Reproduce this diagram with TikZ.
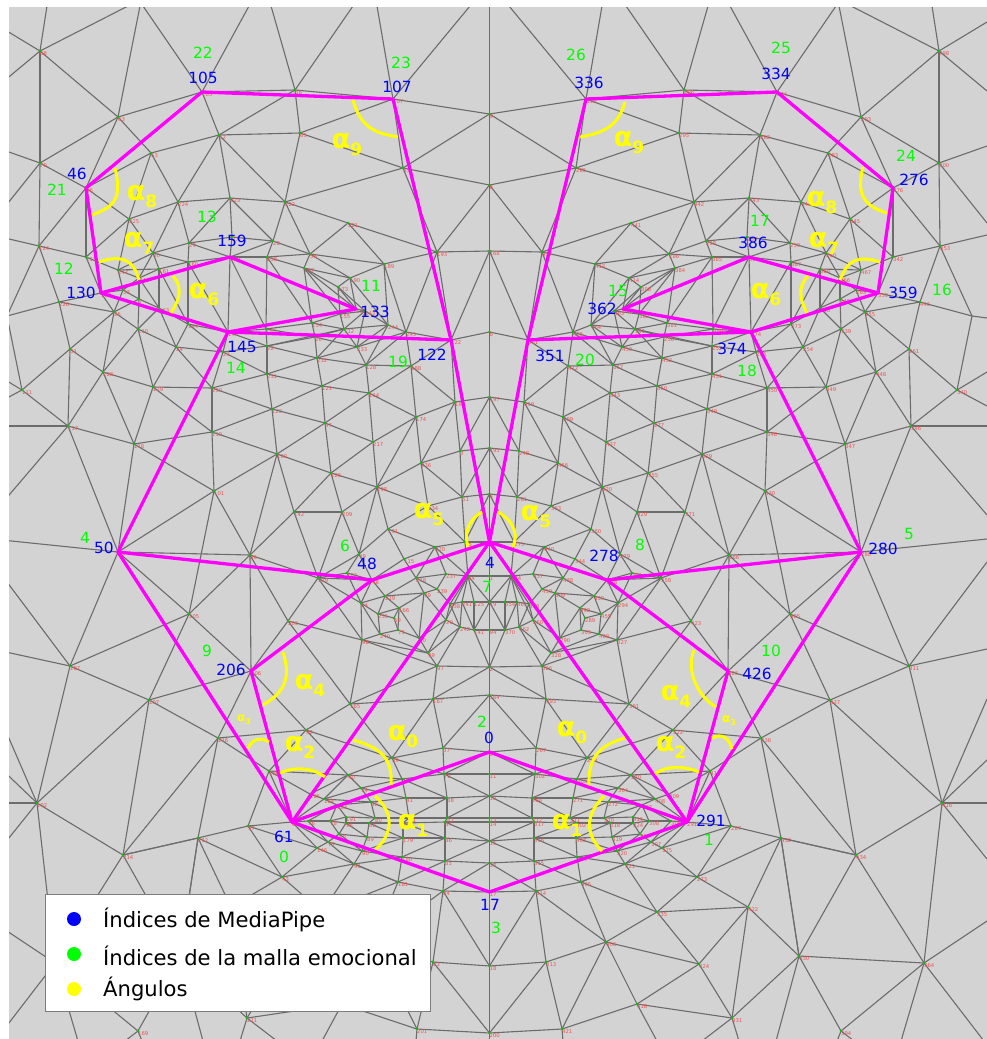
\documentclass[tikz,border=0pt]{standalone}
\usepackage{fontspec}
\setmainfont{DejaVu Sans}
\definecolor{meshbg}{RGB}{211,211,211}
\definecolor{meshline}{RGB}{108,108,108}
\definecolor{tinyred}{RGB}{235,85,85}
\definecolor{dotgreen}{RGB}{0,200,0}
\definecolor{lgborder}{RGB}{125,125,125}
\definecolor{purem}{RGB}{255,0,255}
\definecolor{purey}{RGB}{255,255,0}
\definecolor{pureb}{RGB}{0,0,255}
\definecolor{pureg}{RGB}{0,255,0}
\newcommand{\angl}[2][27]{{\fontsize{#1}{#1}\selectfont\bfseries α\raisebox{-0.26em}{\fontsize{\numexpr #1*64/100\relax}{10}\selectfont #2}}}
\newcommand{\smallidx}{\fontsize{5.3}{6}\selectfont}
\tikzset{
 meshedge/.style={draw=meshline,line width=1.1pt},
 featedge/.style={draw=purem,line width=3.3pt,line cap=round,line join=round},
 anglearc/.style={draw=purey,line width=3pt},
 anglelabel/.style={text=purey,inner sep=0pt},
 mpidx/.style={text=pureb,font=\fontsize{15.4}{16}\selectfont,inner sep=0pt},
 emidx/.style={text=pureg,font=\fontsize{15.4}{16}\selectfont,inner sep=0pt},
 vtxidx/.style={text=tinyred,font=\smallidx,anchor=west,inner sep=0pt},
 lgtext/.style={text=black,anchor=west,inner sep=0pt,font=\fontsize{21.1}{23}\selectfont},
}
\begin{document}
\begin{tikzpicture}[x=1pt,y=-1pt]
\useasboundingbox (0,0) rectangle (987,1039);
\fill[white] (0,0) rectangle (987,1039);
\fill[meshbg] (9,7) rectangle (987,1039);
% paired vertices (left index / right index / x / y); the right one is the mirror image
\foreach \l/\r/\x/\y in {68/298/40/51,63/293/118/117,105/334/202/92,66/296/295/90,107/336/393/99,52/282/219/135,65/295/300/133,53/283/151/153,70/300/40/163,46/276/86/188,55/285/403/168,224/444/178/202,223/443/230/198,222/442/285/202,225/445/129/219,221/441/348/223,124/353/39/246,27/257/232/237,29/259/189/243,28/258/273/241,56/286/310/254,30/260/153/253,113/342/86/257,159/386/230/257,158/385/267/257,193/417/437/252,160/387/188/262,189/413/384/264,157/384/304/268,247/467/118/270,161/388/159/269,246/466/139/278,190/414/350/278,173/398/338/287,33/263/123/290,130/359/101/293,226/446/59/302,7/249/139/299,163/390/159/308,133/362/356/309,155/382/340/314,25/255/114/312,243/463/365/311,154/381/312/323,144/373/188/324,244/464/388/325,245/465/406/332,112/341/344/329,110/339/138/329,153/380/266/329,145/374/228/332,122/351/451/340,31/261/70/349,24/254/176/347,23/253/223/352,22/252/267/346,26/256/315/337,233/453/357/347,232/452/317/358,128/357/366/365,188/412/411/366,228/448/103/372,231/451/267/374,111/340/22/390,229/449/153/387,230/450/212/388,121/350/322/386,114/343/369/393,196/419/455/402,120/349/272/409,174/399/416/417,47/277/325/423,117/346/68/426,119/348/212/432,217/437/373/442,118/347/134/444,3/248/460/451,100/329/277/454,236/456/421/463,126/355/331/473,198/420/377/487,101/330/214/491,51/281/462/497,134/363/428/506,142/371/294/512,209/429/342/512,131/360/388/529,220/440/435/547,45/275/465/542,50/280/118/552,49/279/359/554,115/344/404/559,36/266/250/555,48/278/372/580,237/457/446/574,44/274/468/576,218/438/416/578,129/358/318/578,102/331/347/573,219/439/385/596,79/309/424/593,239/459/437/589,64/294/361/603,238/458/450/604,241/461/462/602,125/354/474/602,166/392/399/608,235/455/378/614,59/289/394/618,20/250/446/620,242/462/460/627,141/370/474/630,75/305/398/630,240/460/380/634,98/327/362/640,60/290/419/638,99/328/428/653,97/326/437/666,205/425/189/614,203/423/288/621,206/426/251/671,187/411/70/666,207/427/149/700,165/391/350/704,167/393/433/699,92/322/306/730,216/436/218/738,37/267/443/748,39/269/392/758,186/410/269/771,40/270/348/775,72/302/444/774,73/303/402/779,74/304/361/788,185/409/310/794,41/271/406/798,38/268/447/798,184/408/324/799,42/272/371/802,183/407/337/805,212/432/198/838,57/287/248/826,61/291/292/822,76/306/308/821,78/308/330/821,191/415/346/817,95/324/346/823,80/310/375/818,88/318/369/823,81/311/409/818,178/402/403/823,82/312/447/818,87/317/445/822,96/325/339/834,89/319/367/837,86/316/445/838,179/403/403/838,77/307/328/842,146/375/317/848,90/320/362/851,180/404/402/857,85/315/445/861,91/321/354/864,43/273/282/877,181/405/398/882,84/314/443/891,192/416/37/803,214/434/123/855,135/364/55/963,169/394/138/1031,211/431/247/1018,201/421/417/1029,83/313/433/962,182/406/373/942,106/335/322/912,204/424/280/964,202/422/231/907,210/430/180/956,194/418/342/1004,35/265/7/316}{
  \pgfmathsetmacro{\mx}{979-\x}
  \coordinate (L\l) at (\x,\y);
  \coordinate (R\l) at (\mx,\y);
}
% vertices on the axis of symmetry
\foreach \l/\y in {9/114,8/185,168/251,6/332,197/397,195/448,5/494,4/542,1/576,19/602,94/630,2/667,164/695,0/752,11/774,12/796,13/818,14/822,15/841,16/863,17/892,18/966,200/1033}{
  \coordinate (L\l) at (489.5,\y);
  \coordinate (R\l) at (489.5,\y);
}
% free ends of the mesh lines, beyond the frame
\foreach \l/\x/\y in {a1/47/6,a2/128/6,a3/140/6,a4/143/6,a5/249/6,a6/271/6,a7/353/6,a8/377/6,a9/470/6,a10/489.5/6,b1/-8/22,b2/-8/91,b3/-8/146,b4/-8/223,b5/-8/235,b6/-8/372,b7/-8/406,b8/-8/426,b9/-8/515,b10/-8/539,b11/-8/562,b12/-8/649,b13/-8/699,b14/-8/803,b15/-8/859,b16/-8/921,b17/-8/1045,b18/-8/318,b19/-8/760,c1/203/1041,c2/142/1041,c3/125/1041,c4/78/1041,c5/240/1041,c6/277/1041,c7/322/1041,c8/416/1041,c9/489.5/1041}{
  \pgfmathsetmacro{\mx}{979-\x}
  \coordinate (L\l) at (\x,\y);
  \coordinate (R\l) at (\mx,\y);
}
\begin{scope}
\clip (9,7) rectangle (987,1039);
\foreach \a/\b in {68/a1,68/a2,68/b1,68/b2,68/63,68/70,63/a3,105/a4,105/a5,105/63,105/52,105/66,105/46,66/a6,66/a7,66/107,66/52,66/65,107/a8,107/a9,107/9,107/65,107/55,9/a10,9/55,9/8,55/8,55/65,55/222,55/193,8/168,8/193,52/65,52/53,52/224,52/223,52/222,65/222,63/53,63/70,63/46,53/46,53/224,53/225,70/b3,70/b4,70/46,70/124,46/124,46/113,46/225,225/224,225/30,225/113,225/247,224/223,224/30,224/29,223/222,223/29,223/27,223/28,222/221,222/28,222/56,221/193,221/56,221/189,193/189,193/168,193/245,193/122,189/56,189/190,189/244,189/245,29/27,27/28,29/30,29/159,29/160,28/56,28/159,28/158,27/159,113/247,113/124,113/130,30/247,30/160,30/161,30/246,247/33,247/246,247/161,246/161,246/33,246/7,246/163,33/7,33/130,33/25,130/25,130/226,226/25,226/124,226/31,226/35,124/b5,124/35,25/31,25/110,25/7,25/228,7/163,7/110,161/160,160/159,159/158,158/157,157/173,173/133,133/155,155/154,154/153,153/145,145/144,144/163,161/163,160/144,159/145,158/153,157/154,159/153,158/154,157/155,157/133,173/155,160/145,161/144,158/56,157/56,157/190,190/56,190/173,190/244,190/133,173/243,133/243,155/243,155/112,243/112,243/244,243/233,244/112,244/128,244/245,244/233,245/122,245/233,245/188,245/128,154/112,154/26,153/26,153/22,145/23,145/22,144/23,144/24,163/24,163/110,110/24,110/228,110/229,24/23,23/22,22/26,22/112,26/112,26/233,112/233,232/112,31/228,31/111,31/117,35/111,35/b18,228/229,228/117,228/118,229/118,229/230,229/119,229/24,24/230,230/23,230/231,230/119,230/120,23/231,22/231,22/232,231/232,231/121,231/120,232/26,232/233,232/128,232/121,233/128,128/188,128/114,128/121,188/122,188/114,188/196,188/174,121/114,121/120,121/47,114/47,114/174,114/217,196/197,196/122,196/174,196/3,196/236,197/3,197/195,197/6,6/122,6/168,168/122,174/217,174/236,47/120,47/217,47/100,47/126,120/100,120/119,119/118,119/100,119/101,118/117,118/101,118/50,117/b8,117/b9,117/50,117/111,111/b6,111/b7,100/101,100/126,100/142,100/36,126/198,126/142,126/209,126/217,217/198,198/174,198/236,198/134,198/209,198/131,198/49,236/3,236/134,236/51,3/195,3/51,195/51,195/5,51/5,51/134,51/45,5/4,5/45,134/131,134/45,131/220,45/220,45/44,45/4,220/115,220/237,220/218,220/44,131/49,131/115,49/209,49/48,49/129,49/102,209/142,209/129,142/36,142/129,101/36,101/205,101/50,36/50,36/205,36/203,36/206,36/129,50/b10,50/187,50/205,205/187,205/207,205/206,203/206,203/129,203/98,203/165,187/b11,187/b12,187/192,187/207,129/48,129/102,129/64,129/98,102/48,102/64,48/115,48/219,48/64,115/218,218/219,218/237,218/79,218/239,237/44,237/239,44/1,44/238,44/241,44/125,44/19,44/20,1/19,1/4,239/79,239/238,79/219,79/166,79/60,79/20,219/64,219/166,219/235,64/235,64/98,64/240,235/59,235/240,235/166,166/59,166/75,166/60,59/75,75/240,75/60,240/98,240/99,98/97,98/99,60/99,60/20,20/99,20/238,20/242,242/99,242/97,242/141,141/94,141/2,94/2,97/2,99/97,238/241,241/125,125/19,241/242,241/141,125/141,19/94,19/141,238/242,97/167,2/167,2/164,164/167,164/37,164/0,167/165,167/37,167/39,98/165,97/165,165/92,165/39,206/92,206/216,206/207,207/216,207/214,207/192,216/92,216/186,216/212,216/214,92/186,92/39,92/40,37/39,37/0,37/72,39/72,39/73,39/40,0/72,0/11,11/72,11/12,12/72,12/38,38/72,38/73,38/41,72/73,73/40,73/74,73/41,74/40,74/41,74/42,74/184,41/42,41/81,38/81,38/82,12/82,12/13,40/185,40/184,40/186,185/186,185/61,185/184,186/57,186/61,57/212,57/43,57/61,57/146,212/43,212/214,212/202,212/210,43/146,43/91,43/106,43/202,61/146,61/76,61/77,61/184,61/183,146/77,146/91,76/78,76/77,76/183,78/191,78/95,78/183,183/191,183/80,183/42,183/184,184/42,42/80,42/81,191/80,80/81,81/82,82/13,95/88,88/178,178/87,87/14,13/14,191/95,80/88,81/178,82/87,95/96,95/89,88/89,88/179,178/179,178/86,87/86,87/15,14/15,15/86,15/16,86/85,86/179,179/89,179/180,179/90,89/96,89/90,96/77,96/90,96/78,77/90,77/91,90/91,90/180,91/180,91/181,180/181,180/85,180/86,85/16,85/15,85/84,85/181,84/181,84/17,16/17,16/84,84/83,84/18,17/18,181/106,181/182,181/91,91/106,84/182,83/182,83/18,83/201,83/200,18/200,200/c9,201/200,182/106,182/204,182/194,182/201,106/204,106/202,202/204,202/211,202/210,204/211,204/194,194/211,194/201,194/c7,201/c8,211/c5,211/c6,210/211,210/212,210/214,210/135,210/169,210/c1,212/214,214/192,214/135,192/b13,192/b19,192/b14,192/b15,192/135,135/169,135/b16,135/b17,135/c4,169/c2,169/c3}{
  \path[meshedge] (L\a) -- (L\b) (R\a) -- (R\b);
}
\end{scope}
% vertex dots and their tiny indices
\foreach \l/\r in {68/298,63/293,105/334,66/296,107/336,52/282,65/295,53/283,70/300,46/276,55/285,224/444,223/443,222/442,225/445,221/441,124/353,27/257,29/259,28/258,56/286,30/260,113/342,159/386,158/385,193/417,160/387,189/413,157/384,247/467,161/388,246/466,190/414,173/398,33/263,130/359,226/446,7/249,163/390,133/362,155/382,25/255,243/463,154/381,144/373,244/464,245/465,112/341,110/339,153/380,145/374,122/351,31/261,24/254,23/253,22/252,26/256,233/453,232/452,128/357,188/412,228/448,231/451,111/340,229/449,230/450,121/350,114/343,196/419,120/349,174/399,47/277,117/346,119/348,217/437,118/347,3/248,100/329,236/456,126/355,198/420,101/330,51/281,134/363,142/371,209/429,131/360,220/440,45/275,50/280,49/279,115/344,36/266,48/278,237/457,44/274,218/438,129/358,102/331,219/439,79/309,239/459,64/294,238/458,241/461,125/354,166/392,235/455,59/289,20/250,242/462,141/370,75/305,240/460,98/327,60/290,99/328,97/326,205/425,203/423,206/426,187/411,207/427,165/391,167/393,92/322,216/436,37/267,39/269,186/410,40/270,72/302,73/303,74/304,185/409,41/271,38/268,184/408,42/272,183/407,212/432,57/287,61/291,76/306,78/308,191/415,95/324,80/310,88/318,81/311,178/402,82/312,87/317,96/325,89/319,86/316,179/403,77/307,146/375,90/320,180/404,85/315,91/321,43/273,181/405,84/314,192/416,214/434,135/364,169/394,211/431,201/421,83/313,182/406,106/335,204/424,202/422,210/430,194/418}{
  \fill[dotgreen] (L\l) circle (1.3);
  \fill[dotgreen] (R\l) circle (1.3);
  \node[vtxidx] (tl\l) at ([yshift=-2.5pt]L\l) {\l};
  \node[vtxidx] (tr\r) at ([yshift=-2.5pt]R\l) {\r};
}
\foreach \l in {9,8,168,6,197,195,5,4,1,19,94,2,164,0,11,12,13,14,15,16,17,18,200}{
  \fill[dotgreen] (L\l) circle (1.3);
  \node[vtxidx] (tc\l) at ([yshift=-2.5pt]L\l) {\l};
}
% emotional mesh
\foreach \a/\b in {105/46,46/130,105/107,107/122,130/159,159/133,133/145,145/130,145/122,145/50,50/48,48/4,4/122,50/61,206/61,206/48,61/0,61/17,61/4}{
  \path[featedge] (L\a) -- (L\b) (R\a) -- (R\b);
}
% angle arcs
\draw[anglearc] (353,100) .. controls (360,125) and (372,133) .. (398,137);
\draw[anglearc] (625,102) .. controls (618,127) and (603,133) .. (580,137);
\draw[anglearc] (115,168) .. controls (123,200) and (113,207) .. (92,215);
\draw[anglearc] (863,167) .. controls (855,197) and (867,207) .. (887,213);
\draw[anglearc] (99,262) .. controls (120,255) and (133,258) .. (139,280);
\draw[anglearc] (880,262) .. controls (857,255) and (848,260) .. (840,280);
\draw[anglearc] (173,276) .. controls (185,290) and (177,303) .. (171,313);
\draw[anglearc] (808,276) .. controls (797,287) and (800,300) .. (807,313);
\draw[anglearc] (482,512) .. controls (465,522) and (465,537) .. (468,547);
\draw[anglearc] (498,512) .. controls (517,523) and (517,537) .. (513,547);
\draw[anglearc] (283,652) .. controls (292,680) and (283,693) .. (263,705);
\draw[anglearc] (694,650) .. controls (685,673) and (700,698) .. (716,707);
\draw[anglearc] (248,749) .. controls (252,737) and (263,738) .. (269,742);
\draw[anglearc] (712,738) .. controls (723,732) and (730,740) .. (732,749);
\draw[anglearc] (280,773) .. controls (293,767) and (312,767) .. (325,777);
\draw[anglearc] (655,774) .. controls (667,765) and (685,766) .. (699,772);
\draw[anglearc] (353,740) .. controls (377,747) and (393,755) .. (391,785);
\draw[anglearc] (625,738) .. controls (600,745) and (588,757) .. (589,785);
\draw[anglearc] (375,796) .. controls (397,815) and (390,837) .. (376,849);
\draw[anglearc] (604,796) .. controls (582,818) and (588,837) .. (602,851);
\foreach \n/\x/\y/\s in {aL9/347/145/9,aR9/629/143/9,aL8/142/197/8,aR8/822/203/8,aL7/139/243/7,aR7/824/243/7,aL6/204/295/6,aR6/766/295/6,aL5/429/515/5,aR5/536/517/5,aL4/310/685/4,aR4/676/696/4,aL2/300/747/2,aR2/671/747/2,aL0/403/737/0,aR0/572/733/0,aL1/413/825/1,aR1/567/825/1}{
  \node[anglelabel] (\n) at (\x,\y) {\angl{\s}};
}
\node[anglelabel] (aL3) at (244,720) {\angl[12]{3}};
\node[anglelabel] (aR3) at (729,721) {\angl[12]{3}};
% MediaPipe indices
\foreach \t/\x/\y in {105/203/78,107/397/87,46/77/174,130/81/293,159/232/241,133/375/312,145/242/347,122/432/355,50/104/548,48/367/564,206/231/670,4/490/563,61/284/837,0/489/738,17/490/905,336/589/83,334/776/74,276/914/180,386/753/243,359/903/293,362/602/309,351/550/356,374/732/349,278/604/556,280/883/549,426/757/674,291/711/821}{
  \node[mpidx] (mp\t) at (\x,\y) {\t};
}
% emotional mesh indices
\foreach \t/\x/\y in {22/203/53,23/401/63,21/57/190,13/207/217,12/64/269,11/371/286,14/236/368,19/398/362,4/85/538,6/345/546,9/207/651,7/487/587,2/482/722,0/284/857,3/496/928,26/576/55,25/781/48,24/906/156,17/760/221,15/618/291,16/942/290,20/585/360,18/747/371,8/640/545,5/909/534,10/771/651,1/709/840}{
  \node[emidx] (em\t) at (\x,\y) {\t};
}
% legend
\node[draw=lgborder,fill=white,line width=1pt,minimum width=385pt,minimum height=117pt,inner sep=0pt] (legendbox) at (237.5,952.5) {};
\fill[pureb] (74,919) circle (7);
\fill[pureg] (74,954) circle (7);
\fill[purey] (74,989) circle (7);
\node[lgtext] (lg1) at (103,920) {Índices de MediaPipe};
\node[lgtext] (lg2) at (103,956) {Índices de la malla emocional};
\node[lgtext] (lg3) at (103,989) {Ángulos};
\end{tikzpicture}
\end{document}
